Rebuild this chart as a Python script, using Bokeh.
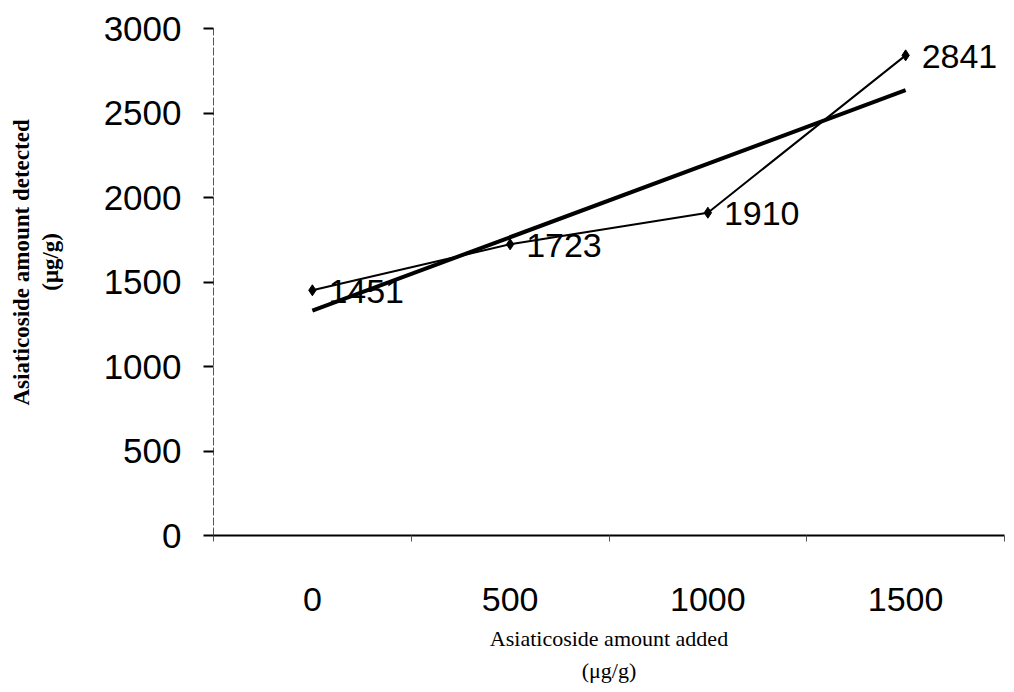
from bokeh.plotting import figure
from bokeh.models import FixedTicker, Range1d, Title, ColumnDataSource
from bokeh.core.properties import value
from bokeh.embed import file_html
from bokeh.resources import INLINE

# ---- data ----
categories = ["0", "500", "1000", "1500"]          # amount added (µg/g)
detected = [1451, 1723, 1910, 2841]                 # amount detected (µg/g)
trend_cats = ["0", "1500"]                          # linear trend end points
trend_vals = [1330, 2635]
y_ticks = [0, 500, 1000, 1500, 2000, 2500, 3000]

xpos = [categories.index(c) + 0.5 for c in categories]
tx = [categories.index(c) + 0.5 for c in trend_cats]

src = ColumnDataSource(dict(x=xpos, y=detected, lab=[str(v) for v in detected]))

p = figure(width=1006, height=684, x_range=Range1d(0, len(categories)),
           y_range=Range1d(0, 3000), output_backend="svg", toolbar_location=None,
           min_border_left=213, min_border_right=2, min_border_top=28,
           min_border_bottom=147)
p.outline_line_color = None
p.grid.visible = False
p.background_fill_color = "white"
p.border_fill_color = "white"

# x axis (category style: labels centred, ticks on boundaries)
xa = p.xaxis[0]
xa.ticker = FixedTicker(ticks=xpos, minor_ticks=list(range(len(categories) + 1)))
xa.major_label_overrides = {x: c for x, c in zip(xpos, categories)}
xa.major_tick_in = 0
xa.major_tick_out = 0
xa.minor_tick_in = 0
xa.minor_tick_out = 6
xa.minor_tick_line_color = "#555555"
xa.axis_line_width = 2
xa.axis_line_color = "black"
xa.major_label_text_font = "Liberation Sans"
xa.major_label_text_font_size = "34px"
xa.major_label_text_color = "black"
xa.major_label_standoff = 46
xa.axis_label = "Asiaticoside amount added"
xa.axis_label_standoff = 12
xa.axis_label_text_font = "Liberation Serif"
xa.axis_label_text_font_size = "22px"
xa.axis_label_text_font_style = "normal"
xa.axis_label_text_color = "black"

# y axis
ya = p.yaxis[0]
ya.ticker = FixedTicker(ticks=y_ticks)
ya.minor_tick_line_color = None
ya.major_tick_in = 0
ya.major_tick_out = 10
ya.major_tick_line_width = 2
ya.axis_line_color = "#555555"
ya.axis_line_width = 1
ya.axis_line_dash = "8 2"
ya.major_label_text_font = "Liberation Sans"
ya.major_label_text_font_size = "35px"
ya.major_label_text_color = "black"
ya.major_label_standoff = 22
ya.axis_label = "\u00a0" * 7 + "(μg/g)"
ya.axis_label_standoff = 38
ya.axis_label_text_font = "Liberation Serif"
ya.axis_label_text_font_size = "23px"
ya.axis_label_text_font_style = "bold"
ya.axis_label_text_color = "black"

# outer title lines
p.add_layout(Title(text="(μg/g)", align="center", text_font="Liberation Serif",
                   text_font_size="22px", text_font_style="normal",
                   text_color="black", standoff=4), "below")
p.add_layout(Title(text="Asiaticoside amount detected", align="left",
                   text_font="Liberation Serif", text_font_size="23px",
                   text_font_style="bold", text_color="black",
                   standoff=2, offset=130), "left")

# trend line and data series
p.line(tx, trend_vals, line_color="black", line_width=4)
p.line("x", "y", source=src, line_color="black", line_width=2)
p.scatter("x", "y", source=src, marker="diamond", size=11, color="black")
p.text("x", "y", text="lab", source=src, x_offset=16, y_offset=1,
       text_font=value("Liberation Sans"), text_font_size="34px",
       text_baseline="middle", text_align="left", text_color="black")

open("out.html", "w").write(file_html(p, INLINE))
